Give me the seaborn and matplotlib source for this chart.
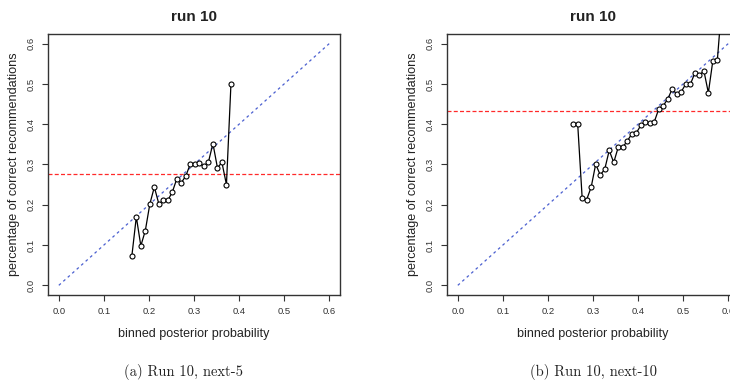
import matplotlib
matplotlib.use("Agg")
import matplotlib.pyplot as plt
import seaborn as sns
import pandas as pd

# ---- data ----
x_a = [0.162, 0.172, 0.182, 0.192, 0.202, 0.212, 0.222, 0.232, 0.242, 0.252,
       0.262, 0.272, 0.282, 0.292, 0.302, 0.312, 0.322, 0.332, 0.342, 0.352,
       0.362, 0.372, 0.382]
y_a = [0.072, 0.170, 0.098, 0.136, 0.202, 0.244, 0.202, 0.211, 0.211, 0.232,
       0.265, 0.255, 0.272, 0.302, 0.300, 0.303, 0.296, 0.306, 0.352, 0.292,
       0.305, 0.250, 0.500]
base_a = 0.277

x_b = [0.256, 0.266, 0.276, 0.286, 0.296, 0.306, 0.316, 0.326, 0.336, 0.346,
       0.356, 0.366, 0.376, 0.386, 0.396, 0.406, 0.416, 0.426, 0.436, 0.446,
       0.456, 0.466, 0.476, 0.486, 0.496, 0.506, 0.516, 0.526, 0.536, 0.546,
       0.556, 0.566, 0.576, 0.586]
y_b = [0.401, 0.401, 0.216, 0.213, 0.244, 0.301, 0.274, 0.288, 0.335, 0.305,
       0.343, 0.343, 0.358, 0.376, 0.378, 0.397, 0.405, 0.403, 0.406, 0.438,
       0.446, 0.463, 0.488, 0.474, 0.481, 0.500, 0.499, 0.527, 0.521, 0.533,
       0.478, 0.558, 0.560, 0.700]
base_b = 0.432

diag = [0.0, 0.6]
ticks = [0.0, 0.1, 0.2, 0.3, 0.4, 0.5, 0.6]
tick_labels = ["0.0", "0.1", "0.2", "0.3", "0.4", "0.5", "0.6"]
titles = ["run 10", "run 10"]
captions = ["(a) Run 10, next-5", "(b) Run 10, next-10"]
xlabel = "binned posterior probability"
ylabel = "percentage of correct recommendations"

sns.set_style("ticks")
plt.rcParams["font.family"] = ["Liberation Sans", "DejaVu Sans"]

W, H = 730, 388
fig = plt.figure(figsize=(W / 100, H / 100), dpi=100)

panels = [
    (48, x_a, y_a, base_a, 184),
    (447, x_b, y_b, base_b, 594),
]
ax_w, ax_top, ax_bot = 292, 34, 295

for i, (left, xs, ys, base, capx) in enumerate(panels):
    ax = fig.add_axes([left / W, 1 - ax_bot / H, ax_w / W, (ax_bot - ax_top) / H])
    ax.set_facecolor("white")
    # diagonal reference
    sns.lineplot(x=diag, y=diag, ax=ax, color="#4a5fd0", lw=0.9,
                 linestyle=(0, (2.2, 2.6)), zorder=1)
    # baseline
    ax.axhline(base, color="#ff2a2a", lw=0.9, linestyle=(0, (3.2, 1.8)), zorder=1)
    df = pd.DataFrame({"x": xs, "y": ys})
    sns.lineplot(data=df, x="x", y="y", ax=ax, sort=False, color="black", lw=0.9,
                 marker="o", markersize=3.6, markerfacecolor="white",
                 markeredgecolor="black", markeredgewidth=0.8, zorder=3)
    ax.set_xlim(-0.024, 0.624)
    ax.set_ylim(-0.024, 0.624)
    ax.set_xticks(ticks)
    ax.set_xticklabels(tick_labels)
    ax.set_yticks(ticks)
    ax.set_yticklabels(tick_labels, rotation=90, va="center")
    ax.tick_params(axis="both", direction="out", length=4, width=0.8,
                   labelsize=6.8, colors="#333333", labelcolor="#333333", pad=5)
    for s in ax.spines.values():
        s.set_visible(True)
        s.set_color("#333333")
        s.set_linewidth(1.0)
    ax.set_xlabel(xlabel, fontsize=9, color="#222222", labelpad=8)
    ax.set_ylabel(ylabel, fontsize=9.1, color="#222222", labelpad=5)
    ax.set_title(titles[i], fontsize=11, fontweight="bold", color="#222222", pad=9)
    fig.text(capx / W, 1 - 372 / H, captions[i], ha="center", va="center",
             fontsize=10.5, family=["cmr10", "DejaVu Serif"], color="#222222")

fig.savefig("out.png", dpi=100)
